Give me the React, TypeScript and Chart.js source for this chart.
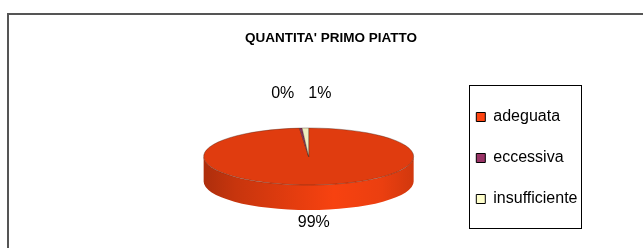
import React, { useEffect, useRef } from 'react';
import { Chart, registerables } from 'chart.js';

Chart.register(...registerables);

// ---- data ----
const chartTitle = "QUANTITA' PRIMO PIATTO";
const categories = ['adeguata', 'eccessiva', 'insufficiente'];
const values = [99, 0.4, 1];
const baseColors = ['#FF4411', '#993366', '#FFFFCC'];

const FONT = "'Liberation Sans', Arial, Helvetica, sans-serif";

function shade(hex: string, f: number): string {
  const h = hex.replace('#', '');
  const r = Math.min(255, Math.round(parseInt(h.slice(0, 2), 16) * f));
  const g = Math.min(255, Math.round(parseInt(h.slice(2, 4), 16) * f));
  const b = Math.min(255, Math.round(parseInt(h.slice(4, 6), 16) * f));
  return `rgb(${r},${g},${b})`;
}

// 3D tilt: side walls drawn from the arc elements, then the library's arcs are drawn squashed
const pie3d = {
  id: 'pie3d',
  beforeDatasetsDraw(chart: any, _args: any, opts: any) {
    const meta = chart.getDatasetMeta(0);
    const arcs = meta.data;
    const ctx = chart.ctx;
    ctx.save();
    if (!arcs.length) return;
    const { x: cx, y: cy, outerRadius: R } = arcs[0].getProps(['x', 'y', 'outerRadius'], true);
    const { tilt, depth, dx } = opts;
    const X = cx + dx;
    const Y = cy - depth / 2;
    arcs.forEach((arc: any, i: number) => {
      const { startAngle, endAngle } = arc.getProps(['startAngle', 'endAngle'], true);
      const base = opts.colors[i];
      for (const k of [-2, 0, 2]) {
        const lo = Math.max(startAngle, k * Math.PI);
        const hi = Math.min(endAngle, (k + 1) * Math.PI);
        if (hi <= lo) continue;
        const g = ctx.createLinearGradient(X - R, 0, X + R, 0);
        opts.sideStops.forEach(([p, f]: [number, number]) => g.addColorStop(p, shade(base, f)));
        ctx.beginPath();
        ctx.ellipse(X, Y, R, R * tilt, 0, lo, hi);
        ctx.ellipse(X, Y + depth, R, R * tilt, 0, hi, lo, true);
        ctx.closePath();
        ctx.fillStyle = g;
        ctx.fill();
      }
    });
    ctx.translate(X, Y);
    ctx.scale(1, tilt);
    ctx.translate(-cx, -cy);
  },
  afterDatasetsDraw(chart: any) {
    chart.ctx.restore();
  },
};

const pieLabels = {
  id: 'pieLabels',
  afterDraw(chart: any, _args: any, opts: any) {
    const meta = chart.getDatasetMeta(0);
    const arcs = meta.data;
    if (!arcs.length) return;
    const p3 = chart.options.plugins.pie3d;
    const ctx = chart.ctx;
    const data = chart.data.datasets[0].data as number[];
    const total = data.reduce((a, b) => a + b, 0);
    ctx.save();
    ctx.font = `${opts.size}px ${FONT}`;
    ctx.fillStyle = opts.color;
    ctx.textAlign = 'center';
    ctx.textBaseline = 'middle';
    const items = arcs.map((arc: any, i: number) => {
      const { x: cx, y: cy, outerRadius: R, startAngle, endAngle } = arc.getProps(
        ['x', 'y', 'outerRadius', 'startAngle', 'endAngle'],
        true
      );
      const m = (startAngle + endAngle) / 2;
      const c = Math.cos(m);
      const s = Math.sin(m);
      const X = cx + p3.dx;
      const Y = cy - p3.depth / 2;
      const front = s > 0;
      const ex = X + R * c;
      const ey = Y + R * p3.tilt * s + (front ? p3.depth : 0);
      const off = front ? opts.bottomGap : opts.topGap;
      const text = Math.round((data[i] / total) * 100) + '%';
      return { text, x: ex + c * off, y: ey + (front ? off : -off), w: ctx.measureText(text).width };
    });
    // spread labels that collide on the same line
    for (let iter = 0; iter < 5; iter++) {
      for (let a = 0; a < items.length; a++) {
        for (let b = a + 1; b < items.length; b++) {
          const A = items[a];
          const B = items[b];
          if (Math.abs(A.y - B.y) > opts.size) continue;
          const need = (A.w + B.w) / 2 + opts.minGap;
          const d = Math.abs(A.x - B.x);
          if (d < need) {
            const mid = (A.x + B.x) / 2;
            const [L, Rr] = A.x <= B.x ? [A, B] : [B, A];
            L.x = mid - need / 2;
            Rr.x = mid + need / 2;
          }
        }
      }
    }
    items.forEach((it: any) => ctx.fillText(it.text, it.x, it.y));
    ctx.restore();
  },
};

const legendFrame = {
  id: 'legendFrame',
  afterDraw(chart: any, _args: any, opts: any) {
    const hb = chart.legend && chart.legend.legendHitBoxes;
    if (!hb || !hb.length) return;
    const left = Math.min(...hb.map((h: any) => h.left)) - opts.padLeft;
    const top = Math.min(...hb.map((h: any) => h.top)) - opts.padTop;
    const right = Math.max(...hb.map((h: any) => h.left + h.width)) + opts.padRight;
    const bottom = Math.max(...hb.map((h: any) => h.top + h.height)) + opts.padBottom;
    const ctx = chart.ctx;
    ctx.save();
    ctx.strokeStyle = opts.color;
    ctx.lineWidth = 1;
    ctx.strokeRect(Math.round(left) + 0.5, Math.round(top) + 0.5, Math.round(right - left), Math.round(bottom - top));
    ctx.restore();
  },
};

export default function App() {
  const ref = useRef<HTMLCanvasElement | null>(null);

  useEffect(() => {
    if (!ref.current) return;
    const chart = new Chart(ref.current, {
      type: 'pie',
      data: {
        labels: categories,
        datasets: [
          {
            data: values,
            backgroundColor: baseColors.map((c, i) => shade(c, i === 2 ? 0.93 : 0.88)),
            borderColor: 'rgba(70,40,30,0.75)',
            borderWidth: 0.8,
            hoverOffset: 0,
            clip: false,
          } as any,
        ],
      },
      plugins: [pie3d, pieLabels, legendFrame],
      options: {
        responsive: false,
        animation: false,
        events: [],
        radius: 105,
        layout: { padding: { left: 67.5, right: 67.5, top: 0, bottom: 0 } },
        plugins: {
          title: {
            display: true,
            text: chartTitle,
            color: '#000',
            font: { family: FONT, size: 13.5, weight: 'bold' },
            padding: { top: 16.9, bottom: 37.9 },
          },
          legend: {
            display: true,
            position: 'right',
            align: 'start',
            fullSize: false,
            labels: {
              color: '#000',
              font: { family: FONT, size: 16 },
              boxWidth: 9,
              boxHeight: 9,
              padding: 25,
              generateLabels: () =>
                categories.map((c, i) => ({
                  text: c,
                  fillStyle: baseColors[i],
                  strokeStyle: '#000',
                  lineWidth: 1,
                  hidden: false,
                  index: i,
                  datasetIndex: 0,
                  fontColor: '#000',
                })),
            },
          },
          tooltip: { enabled: false },
          pie3d: {
            tilt: 0.2714,
            depth: 25,
            dx: 45.75,
            colors: baseColors,
            sideStops: [
              [0, 0.68],
              [0.15, 0.78],
              [0.45, 0.9],
              [0.62, 0.97],
              [0.85, 0.92],
              [1, 0.82],
            ],
          },
          pieLabels: { size: 16, color: '#000', topGap: 34, bottomGap: 13, minGap: 14 },
          legendFrame: { color: '#000', padLeft: 7, padTop: 24, padRight: 4, padBottom: 21 },
        } as any,
      } as any,
    });
    return () => chart.destroy();
  }, []);

  return (
    <div
      style={{
        position: 'fixed',
        left: 0,
        top: 0,
        width: 643,
        height: 248,
        overflow: 'hidden',
        background: '#fff',
      }}
    >
      <div
        style={{
          position: 'absolute',
          left: 7,
          top: 13,
          width: 700,
          height: 400,
          borderLeft: '2px solid #555',
          borderTop: '2px solid #555',
          boxSizing: 'border-box',
        }}
      />
      <canvas
        ref={ref}
        width={648}
        height={241}
        style={{ position: 'absolute', left: 7, top: 13, width: 648, height: 241, display: 'block' }}
      />
    </div>
  );
}
